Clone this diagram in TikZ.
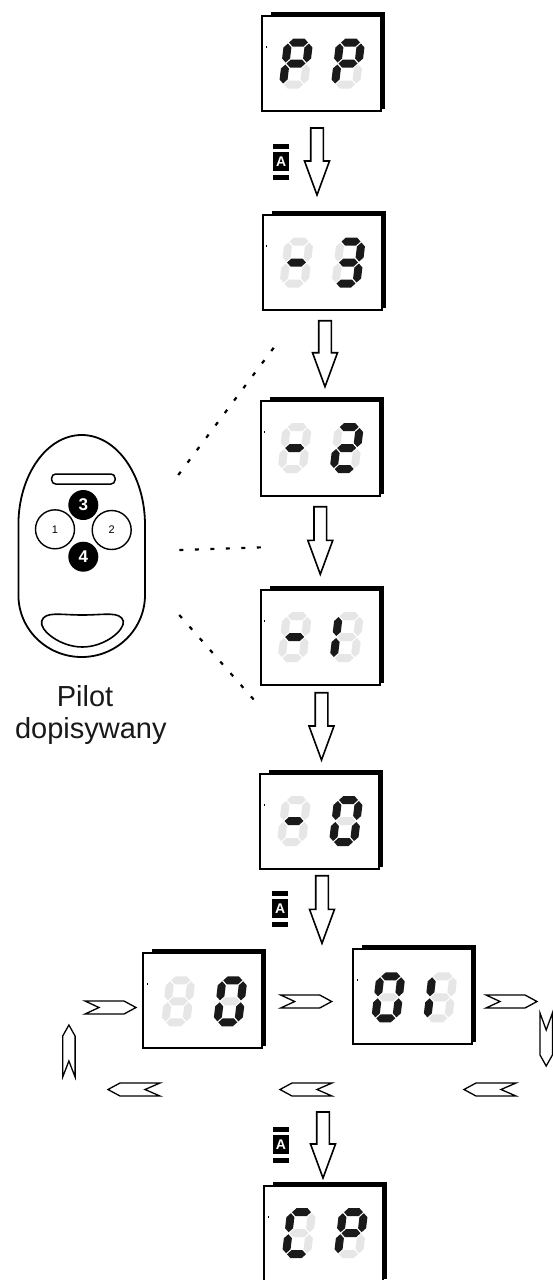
\documentclass[tikz,border=0pt]{standalone}
\usepackage{fontspec}
\setmainfont{Liberation Sans}
\usetikzlibrary{calc}
\definecolor{segdark}{HTML}{1A1A1A}
\definecolor{seglight}{HTML}{E6E6E6}
\tikzset{
 seg1/.style={fill=segdark},
 seg0/.style={fill=seglight},
 frontbox/.style={draw=black,line width=2pt,fill=white,minimum width=119pt,minimum height=95pt,inner sep=0pt,outer sep=0pt,anchor=north west},
 hollowarrow/.style={draw=black,line width=1.6pt,fill=white,line join=miter},
 chevron/.style={draw=black,line width=1.3pt,fill=white,line join=miter},
 dotline/.style={line width=2.2pt,dash pattern=on 4pt off 11.5pt},
 keyicon/.style={fill=black,text=white,minimum width=16pt,minimum height=18.5pt,inner sep=0pt,font=\bfseries\fontsize{14}{14}\selectfont},
 pilotline/.style={draw=black,line width=1.8pt},
 bigbtn/.style={circle,fill=black,text=white,minimum size=30pt,inner sep=0pt,font=\bfseries\fontsize{17}{17}\selectfont},
 smallbtn/.style={circle,draw=black,line width=1.4pt,fill=white,minimum size=39pt,inner sep=0pt,font=\fontsize{11}{11}\selectfont},
 caption/.style={anchor=base,inner sep=0pt,font=\fontsize{29}{29}\selectfont,text=black!90},
}
\newcommand\sevseg[8]{%
 \begin{scope}[shift={(#1)},xslant=0.12]
  \fill[seg#2] (5,4) -- (9,0) -- (20,0) -- (24,4) -- (20,8) -- (9,8) -- cycle;
  \fill[seg#3] (25,5) -- (29,9) -- (29,20) -- (25,24) -- (21,20) -- (21,9) -- cycle;
  \fill[seg#4] (25,26) -- (29,30) -- (29,41) -- (25,45) -- (21,41) -- (21,30) -- cycle;
  \fill[seg#5] (5,46) -- (9,42) -- (20,42) -- (24,46) -- (20,50) -- (9,50) -- cycle;
  \fill[seg#6] (4,26) -- (8,30) -- (8,41) -- (4,45) -- (0,41) -- (0,30) -- cycle;
  \fill[seg#7] (4,5) -- (8,9) -- (8,20) -- (4,24) -- (0,20) -- (0,9) -- cycle;
  \fill[seg#8] (5,25) -- (9,21) -- (20,21) -- (24,25) -- (20,29) -- (9,29) -- cycle;
 \end{scope}}
\newcommand\display[3]{%
 \fill[black] (#2+9,#3-4) rectangle (#2+123,#3+93);
 \node[frontbox] (#1) at (#2,#3) {};
 \fill[black] (#2+3.5,#3+30) rectangle (#2+4.7,#3+32);}
\newcommand\hollowdn[3]{%
 \draw[hollowarrow] (#1-6.3,#2) -- (#1+6.3,#2) -- (#1+6.3,#3-34) -- (#1+12.5,#3-34) -- (#1,#3) -- (#1-12.5,#3-34) -- (#1-6.3,#3-34) -- cycle;}
\newcommand\keyA[3]{%
 \fill[black] (#2,#3) rectangle (#2+16,#3+5);
 \node[keyicon] (#1) at (#2+8,#3+17.7) {A};
 \fill[black] (#2,#3+31) rectangle (#2+16,#3+36);}
\newcommand\chevR[2]{\draw[chevron] (#1,#2) -- ++(39,0) -- ++(12,6.5) -- ++(-12,6.5) -- ++(-39,0) -- ++(14,-6.5) -- cycle;}
\newcommand\chevL[2]{\draw[chevron] (#1,#2+6.5) -- ++(12,-6.5) -- ++(40,0) -- ++(-15,6.5) -- ++(15,6.5) -- ++(-40,0) -- cycle;}
\newcommand\chevU[2]{\draw[chevron] (#1+6.2,#2) -- ++(6.2,11) -- ++(0,41) -- ++(-6.2,-16) -- ++(-6.2,16) -- ++(0,-41) -- cycle;}
\newcommand\chevD[2]{\draw[chevron] (#1,#2) -- ++(6.2,17) -- ++(6.2,-17) -- ++(0,42) -- ++(-6.2,11) -- ++(-6.2,-11) -- cycle;}
\begin{document}
\begin{tikzpicture}[x=1pt,y=-1pt]
\useasboundingbox (0,0) rectangle (553,1280);
% displays
\display{dPP}{262}{16}
\sevseg{$(dPP.north west)+(22.5,22.5)$}{1}{1}{0}{0}{1}{1}{1}
\sevseg{$(dPP.north west)+(74.5,22.5)$}{1}{1}{0}{0}{1}{1}{1}
\display{dMiii}{262.5}{215}
\sevseg{$(dMiii.north west)+(22.5,22.5)$}{0}{0}{0}{0}{0}{0}{1}
\sevseg{$(dMiii.north west)+(74.5,22.5)$}{1}{1}{1}{1}{0}{0}{1}
\display{dMii}{260.7}{400.5}
\sevseg{$(dMii.north west)+(22.5,22.5)$}{0}{0}{0}{0}{0}{0}{1}
\sevseg{$(dMii.north west)+(74.5,22.5)$}{1}{1}{0}{1}{1}{0}{1}
\display{dMi}{260.7}{589.5}
\sevseg{$(dMi.north west)+(22.5,22.5)$}{0}{0}{0}{0}{0}{0}{1}
\sevseg{$(dMi.north west)+(74.5,22.5)$}{0}{0}{0}{0}{1}{1}{0}
\display{dMo}{260}{773.5}
\sevseg{$(dMo.north west)+(22.5,22.5)$}{0}{0}{0}{0}{0}{0}{1}
\sevseg{$(dMo.north west)+(74.5,22.5)$}{1}{1}{1}{1}{1}{1}{0}
\display{dZ}{143.3}{953.3}
\sevseg{$(dZ.north west)+(23.5,23)$}{0}{0}{0}{0}{0}{0}{0}
\sevseg{$(dZ.north west)+(75.5,23)$}{1}{1}{1}{1}{1}{1}{0}
\display{dZi}{353.3}{949.3}
\sevseg{$(dZi.north west)+(23.5,23)$}{1}{1}{1}{1}{1}{1}{0}
\sevseg{$(dZi.north west)+(75.5,23)$}{0}{0}{0}{0}{1}{1}{0}
\display{dCP}{264}{1185.7}
\sevseg{$(dCP.north west)+(23.5,22.5)$}{1}{0}{0}{1}{1}{1}{0}
\sevseg{$(dCP.north west)+(75.5,22.5)$}{1}{1}{0}{0}{1}{1}{1}
% down arrows
\hollowdn{317}{128}{195}
\hollowdn{325}{320.7}{386.7}
\hollowdn{320.3}{506.7}{574.3}
\hollowdn{321.5}{692.7}{760}
\hollowdn{322}{875.7}{943.3}
\hollowdn{323}{1112}{1178}
% key icons
\keyA{kA}{273.3}{144}
\keyA{kB}{272.3}{891}
\keyA{kC}{273}{1127}
% chevron arrows
\chevR{85}{1001}
\chevR{280.7}{995}
\chevR{486}{995}
\chevL{108}{1083}
\chevL{280}{1083}
\chevL{464}{1083}
\chevU{62.7}{1025}
\chevD{540}{1013}
% remote
\draw[pilotline] (18.4,525) .. controls (18.4,475.3) and (46.7,435) .. (81.7,435) .. controls (116.7,435) and (145,475.3) .. (145,525) -- (145,595) .. controls (145,629.2) and (116.7,657) .. (81.7,657) .. controls (46.7,657) and (18.4,629.2) .. (18.4,595) -- cycle;
\draw[black,line width=1.5pt,rounded corners=4pt] (51.7,474) rectangle (115,484);
\node[bigbtn] (bthree) at (83.3,505) {3};
\node[smallbtn] (bone) at (55,529.3) {1};
\node[smallbtn] (btwo) at (111.7,530) {2};
\node[bigbtn] (bfour) at (83.3,556.7) {4};
\draw[black,line width=1.6pt] (41.7,621) .. controls (45,611) and (60,615) .. (82.3,615) .. controls (105,615) and (120,611) .. (123.3,621) .. controls (125,630) and (105,647) .. (82.3,647) .. controls (60,647) and (39,630) .. (41.7,621) -- cycle;
\node[caption] (tPilot) at (85,706.7) {Pilot};
\node[caption] (tDop) at (90.8,738.3) {dopisywany};
% dotted lines
\coordinate (pu) at (178.3,475);
\coordinate (pm) at (179.3,550);
\coordinate (pl) at (179.3,615);
\coordinate (qu) at (275,346);
\coordinate (qm) at (261.7,547.3);
\coordinate (ql) at (260,706.7);
\draw[dotline] (pu) -- (qu);
\draw[dotline] (pm) -- (qm);
\draw[dotline] (pl) -- (ql);
\end{tikzpicture}
\end{document}
